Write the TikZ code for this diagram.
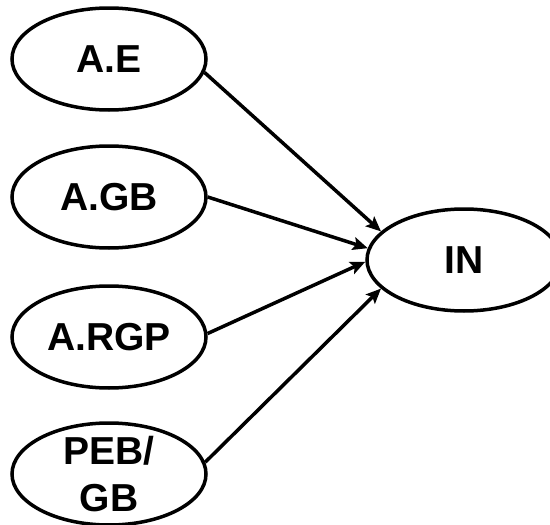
\documentclass[tikz,border=0pt]{standalone}
\usepackage{fontspec}
\setmainfont{Liberation Sans}
\usetikzlibrary{shapes.geometric,arrows.meta}
\begin{document}
\begin{tikzpicture}[x=1pt,y=-1pt,
  lbl/.style={font=\bfseries\fontsize{39}{47}\selectfont},
  oval/.style={ellipse,draw,line width=3.5pt,minimum width=194pt,minimum height=102pt,inner sep=0pt,lbl},
  link/.style={line width=3.5pt,-{Stealth[length=15pt,width=13pt,inset=3pt]}}]
\useasboundingbox (0,0) rectangle (550,525);
\clip (0,0) rectangle (550,525);
\node[oval] (ae) at (109,59) {A.E};
\node[oval] (agb) at (109,197) {A.GB};
\node[oval] (argp) at (109,337) {A.RGP};
\node[oval, label={[lbl,align=center]center:{PEB/\\GB}}] (peb) at (109,474) {};
\node[oval] (in) at (464,260) {IN};
\draw[link] (ae.352) -- (in.161);
\draw[link] (agb.0) -- (in.173);
\draw[link] (argp.2) -- (in.181);
\draw[link] (peb.7) -- (in.199);
\end{tikzpicture}
\end{document}
